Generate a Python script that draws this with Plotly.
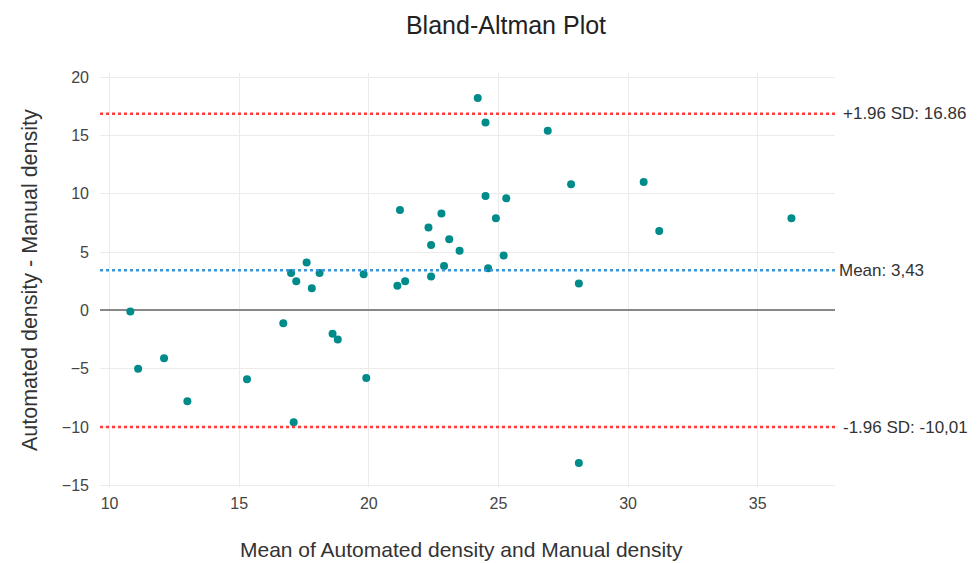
import plotly.graph_objects as go

# Data
mean_vals = [10.8, 11.1, 12.1, 13.0, 15.3, 16.7, 17.1, 18.6, 18.8, 19.9, 28.1,
             17.0, 17.2, 17.6, 17.8, 18.1, 19.8, 21.2, 21.1, 21.4, 22.3, 22.4,
             22.4, 22.8, 22.9, 23.1, 23.5, 24.2, 24.5, 24.5, 24.6, 24.9, 25.3,
             25.2, 26.9, 27.8, 28.1, 30.6, 31.2, 36.3]
diff_vals = [-0.1, -5.0, -4.1, -7.8, -5.9, -1.1, -9.6, -2.0, -2.5, -5.8, -13.1,
             3.2, 2.5, 4.1, 1.9, 3.2, 3.1, 8.6, 2.1, 2.5, 7.1, 5.6,
             2.9, 8.3, 3.8, 6.1, 5.1, 18.2, 16.1, 9.8, 3.6, 7.9, 9.6,
             4.7, 15.4, 10.8, 2.3, 11.0, 6.8, 7.9]

mean_diff = 3.43
upper_loa = 16.86
lower_loa = -10.01
limit_labels = ["+1.96 SD: 16.86", "Mean: 3,43", "-1.96 SD: -10,01"]

x_ticks = [10, 15, 20, 25, 30, 35]
y_ticks = [-15, -10, -5, 0, 5, 10, 15, 20]

chart_title = "Bland-Altman Plot"
x_title = "Mean of Automated density and Manual density"
y_title = "Automated density - Manual density"

fig = go.Figure()
fig.add_trace(go.Scatter(
    x=mean_vals, y=diff_vals, mode="markers",
    marker=dict(color="#008b8b", size=8),
    showlegend=False,
))

font_fam = "Liberation Sans, Arial, sans-serif"

for val, col, lab, dx in [(upper_loa, "#ff3b3b", limit_labels[0], 6),
                          (mean_diff, "#3a96d8", limit_labels[1], 2),
                          (lower_loa, "#ff3b3b", limit_labels[2], 6)]:
    fig.add_shape(type="line", xref="paper", yref="y", x0=0, x1=1, y0=val, y1=val,
                  line=dict(color=col, width=2.5, dash="dot"))
    fig.add_annotation(xref="paper", yref="y", x=1, y=val, text=lab, showarrow=False,
                       xanchor="left", yanchor="middle", xshift=dx,
                       font=dict(size=17, color="#333333", family=font_fam))

# axis titles as text annotations placed like the reference
fig.add_annotation(xref="paper", yref="paper", x=0.4925, y=-0.152, text=x_title,
                   showarrow=False, xanchor="center", yanchor="middle",
                   font=dict(size=21, color="#333333", family=font_fam))
fig.add_annotation(xref="paper", yref="paper", x=-0.0952, y=0.5, text=y_title,
                   showarrow=False, xanchor="center", yanchor="middle", textangle=-90,
                   font=dict(size=21.5, color="#333333", family=font_fam))

fig.update_layout(
    width=970, height=555,
    paper_bgcolor="white", plot_bgcolor="white",
    margin=dict(l=92, r=143, t=65, b=76),
    font=dict(family=font_fam, color="#444444"),
    title=dict(text=chart_title, x=0.5134, xanchor="center", y=0.9694,
               yanchor="middle",
               font=dict(size=25, color="#222222", family=font_fam)),
    xaxis=dict(range=[9.63, 37.98], tickvals=x_ticks, showgrid=True,
               gridcolor="#ebebeb", zeroline=False, showline=False,
               automargin=False, ticklen=0, ticklabelstandoff=5,
               tickfont=dict(size=16, color="#444444")),
    yaxis=dict(range=[-15.15, 20.35], tickvals=y_ticks, showgrid=True,
               gridcolor="#ebebeb", zeroline=True, zerolinecolor="#888888",
               zerolinewidth=1.5, showline=False, automargin=False,
               ticklen=0, ticklabelstandoff=10,
               tickfont=dict(size=16, color="#444444")),
)

fig.write_html("out.html")
